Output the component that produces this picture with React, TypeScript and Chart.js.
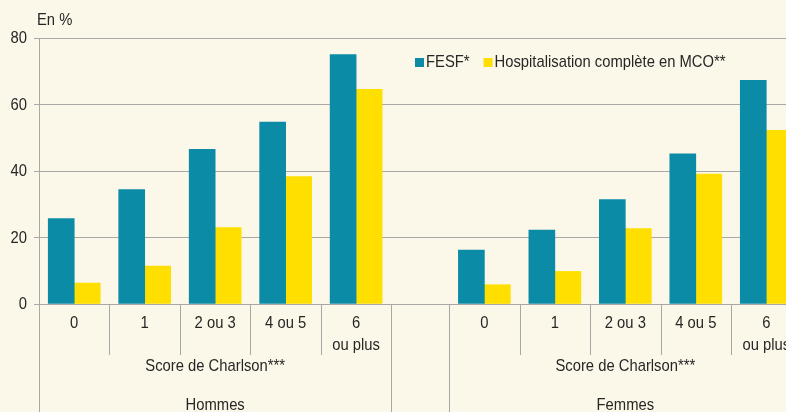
import React, { useEffect, useRef } from 'react';
import { Chart, registerables } from 'chart.js';

Chart.register(...registerables);

// ---- Data ----
const CATEGORY_LABELS: string[][] = [['0'], ['1'], ['2 ou 3'], ['4 ou 5'], ['6', 'ou plus']];
const GROUPS = ['Hommes', 'Femmes'];
const GROUP_AXIS_TITLE = 'Score de Charlson***';
const SERIES = ['FESF*', 'Hospitalisation complète en MCO**'];
const FESF_HOMMES = [25.7, 34.4, 46.5, 54.7, 75.0];
const MCO_HOMMES = [6.3, 11.4, 23.0, 38.3, 64.6];
const FESF_FEMMES = [16.2, 22.2, 31.4, 45.2, 67.3];
const MCO_FEMMES = [5.8, 9.8, 22.7, 39.1, 52.2];
const Y_TICKS = [0, 20, 40, 60, 80];
const Y_UNIT_LABEL = 'En %';

// ---- Styles / layout ----
const FONT = "'Liberation Sans', Arial, sans-serif";
const FONT_SIZE = 17;
const SX = 0.87; // horizontal condensing of text
const TEXT = '#262626';
const GRID = '#a8a8a8';
const BG = '#fcf8e9';
const TEAL = '#0b8ba6';
const YELLOW = '#ffdf00';
const GROUP_GAP = 0.82;
const X_MAX = 10.6;

const slot = (g: number, i: number) => g * (CATEGORY_LABELS.length + GROUP_GAP) + i;
const toPoints = (groups: number[][]) =>
  groups.flatMap((vals, g) => vals.map((v, i) => ({ x: slot(g, i) + 0.5, y: v })));

function drawText(ctx: any, text: string, x: number, y: number, align: string, baseline: string) {
  ctx.save();
  ctx.translate(x, y);
  ctx.scale(SX, 1);
  ctx.font = `${FONT_SIZE}px ${FONT}`;
  ctx.fillStyle = TEXT;
  ctx.textAlign = align;
  ctx.textBaseline = baseline;
  ctx.fillText(text, 0, 0);
  ctx.restore();
}

function textWidth(ctx: any, text: string) {
  ctx.save();
  ctx.font = `${FONT_SIZE}px ${FONT}`;
  const w = ctx.measureText(text).width * SX;
  ctx.restore();
  return w;
}

const decor = {
  id: 'decor',
  beforeDraw(chart: any) {
    const { ctx, width, height } = chart;
    ctx.save();
    ctx.fillStyle = BG;
    ctx.fillRect(0, 0, width, height);
    ctx.restore();
  },
  afterDraw(chart: any) {
    const { ctx, chartArea, height } = chart;
    const x = chart.scales.x;
    const y = chart.scales.y;
    const bottom = chartArea.bottom;
    const n = CATEGORY_LABELS.length;
    ctx.save();
    ctx.strokeStyle = GRID;
    ctx.lineWidth = 1;
    const vline = (px: number, y0: number, y1: number) => {
      const xx = Math.round(px) + 0.5;
      ctx.beginPath();
      ctx.moveTo(xx, y0);
      ctx.lineTo(xx, y1);
      ctx.stroke();
    };
    GROUPS.forEach((name, g) => {
      for (let k = 0; k <= n; k++) {
        const px = x.getPixelForValue(slot(g, k));
        const full = k === 0 || k === n;
        vline(px, bottom, full ? height : bottom + 51);
      }
      CATEGORY_LABELS.forEach((lines, i) => {
        const cx = x.getPixelForValue(slot(g, i) + 0.5);
        lines.forEach((t, li) => drawText(ctx, t, cx, bottom + 19 + li * 22, 'center', 'middle'));
      });
      const gc = (x.getPixelForValue(slot(g, 0)) + x.getPixelForValue(slot(g, n))) / 2;
      drawText(ctx, GROUP_AXIS_TITLE, gc, bottom + 62, 'center', 'middle');
      drawText(ctx, name, gc, bottom + 101, 'center', 'middle');
    });

    // y tick labels
    Y_TICKS.forEach((v) => {
      drawText(ctx, String(v), chartArea.left - 12, y.getPixelForValue(v) + 0.5, 'right', 'middle');
    });

    // unit label
    drawText(ctx, Y_UNIT_LABEL, 37, 25, 'left', 'alphabetic');

    // legend
    let lx = 415;
    const ly = 62;
    SERIES.forEach((s, i) => {
      ctx.fillStyle = i === 0 ? TEAL : YELLOW;
      ctx.fillRect(lx, ly - 4, 9, 9);
      drawText(ctx, s, lx + 11, ly, 'left', 'middle');
      lx += 11 + textWidth(ctx, s) + 14;
    });
    ctx.restore();
  },
};

export default function App() {
  const ref = useRef<HTMLCanvasElement>(null);
  useEffect(() => {
    const chart = new Chart(ref.current as HTMLCanvasElement, {
      type: 'bar',
      data: {
        datasets: [
          {
            label: SERIES[0],
            data: toPoints([FESF_HOMMES, FESF_FEMMES]) as any,
            backgroundColor: TEAL,
            borderWidth: 0,
            barThickness: 26,
          },
          {
            label: SERIES[1],
            data: toPoints([MCO_HOMMES, MCO_FEMMES]) as any,
            backgroundColor: YELLOW,
            borderWidth: 0,
            barThickness: 26,
          },
        ],
      },
      options: {
        animation: false,
        responsive: false,
        devicePixelRatio: 1,
        layout: { padding: { top: 38, bottom: 108, left: 0, right: 0 } },
        plugins: { legend: { display: false }, tooltip: { enabled: false } },
        scales: {
          x: {
            type: 'linear',
            min: 0,
            max: X_MAX,
            offset: false,
            grid: { offset: false },
            display: false,
          },
          y: {
            min: 0,
            max: 80,
            afterBuildTicks: (s: any) => {
              s.ticks = Y_TICKS.map((v) => ({ value: v }));
            },
            afterFit: (s: any) => {
              s.width = 39;
            },
            ticks: { display: false },
            grid: { color: GRID, lineWidth: 1, tickLength: 5, drawTicks: true },
            border: { display: true, color: GRID, width: 1 },
          },
        },
      },
      plugins: [decor],
    } as any);
    return () => chart.destroy();
  }, []);
  return (
    <div style={{ position: 'absolute', left: 0, top: 0, width: 786, height: 412, overflow: 'hidden', background: BG }}>
      <canvas ref={ref} width={786} height={412} style={{ display: 'block', width: 786, height: 412 }} />
    </div>
  );
}
